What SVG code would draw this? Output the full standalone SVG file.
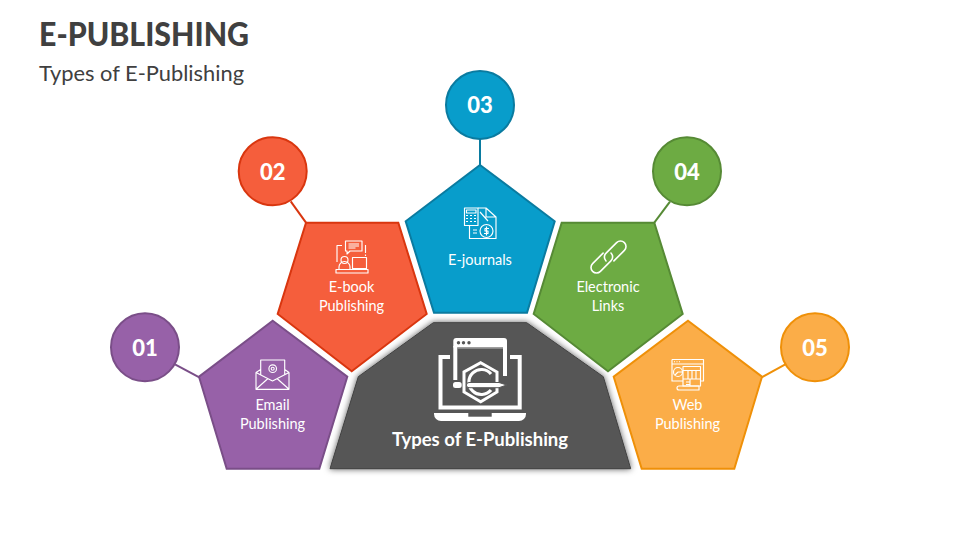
<svg xmlns="http://www.w3.org/2000/svg" width="960" height="540" viewBox="0 0 960 540">
<style>
text{font-family:Lato,"Open Sans",Arial,sans-serif}
.lbl{font-size:14.5px;fill:#fff;text-anchor:middle}
.num{font-size:22px;font-weight:900;fill:#fff;text-anchor:middle}
.ic{fill:none;stroke:#fff;stroke-width:1.150;stroke-linejoin:round}
.s{stroke-width:2}
.p{fill:#9761a8;stroke:#7a4e88}
.r{fill:#f55e3c;stroke:#d9360f}
.b{fill:#089dcb;stroke:#0a7ba0}
.g{fill:#6dab43;stroke:#568a35}
.y{fill:#fbad48;stroke:#ef9008}
</style>
<defs>
<filter id="sh" x="-10%" y="-10%" width="120%" height="120%"><feDropShadow dx="0" dy="0" stdDeviation="3" flood-color="#000" flood-opacity=".65"/></filter>
</defs>
<rect width="960" height="540" fill="#fff"/>
<text x="39" y="46" font-size="32.500" font-weight="900" fill="#404040" textLength="210" lengthAdjust="spacingAndGlyphs">E-PUBLISHING</text>
<text x="39" y="81" font-size="21" fill="#404040" textLength="205" lengthAdjust="spacingAndGlyphs">Types of E-Publishing</text>
<g id="connectors" stroke-width="2" fill="none">
<path d="M175 364.300L199.300 377.300" stroke="#7a4e88"/>
<path d="M290.700 201.300L306 222.700" stroke="#d9360f"/>
<path d="M480 139V165" stroke="#0a7ba0"/>
<path d="M670 201.700L654.300 222.700" stroke="#568a35"/>
<path d="M785.300 364.300L761.700 377.300" stroke="#ef9008"/>
</g>
<g id="center">
<path d="M433.300 322.700H526.700L603.300 376.700L630.700 468.700H330L358.300 376.700Z" fill="#575757" stroke="#404040" filter="url(#sh)"/>
<path d="M453.300 341a3 3 0 0 1 3-3H504a3 3 0 0 1 3 3v6.500H453.300Z" fill="#fff"/>
<circle cx="458.500" cy="342.700" r="1.700" fill="#575757"/><circle cx="463.500" cy="342.700" r="1.700" fill="#575757"/><circle cx="469" cy="342.700" r="1.700" fill="#575757"/>
<path d="M455.300 346V380M505 346V376" fill="none" stroke="#fff" stroke-width="4"/>
<path d="M457.300 348H503" stroke="#9a9a9a" stroke-width="1.500" fill="none"/>
<path d="M450 357H440.500V407.500H519.700V357H510" fill="none" stroke="#fff" stroke-width="4"/>
<path d="M434 413H526v1a7 7 0 0 1-7 7H441a7 7 0 0 1-7-7Z" fill="#fff"/>
<path d="M468.300 413h23.400v3.700h-23.400Z" fill="#575757"/>
<path d="M480.700 362.700L497 372V392L480.700 401.700L464 392V372Z" fill="#575757" stroke="#fff" stroke-width="3"/>
<path d="M491 374A12.500 12.500 0 1 0 491 390" fill="none" stroke="#fff" stroke-width="3.200"/>
<rect x="453" y="382" width="8.700" height="6" rx="2.500" fill="#fff"/>
<path d="M469 382.500H499L506.700 385L499 387.700H469a2.600 2.600 0 0 1 0-5.200Z" fill="#fff" stroke="#575757"/>
<text x="480" y="446" text-anchor="middle" font-size="18.500" font-weight="700" fill="#fff">Types of E-Publishing</text>
</g>
<g id="node-01">
<circle class="p s" cx="145" cy="347.300" r="34"/>
<text class="num" x="145" y="355.500">01</text>
<path class="p s" d="M272.700 320.700L347.300 376.700L319.300 468.700H226.700L199 376.700Z"/>
<path class="ic" d="M260.700 374.500V360H284.700V374.500M256 372.500V389.300H289V372.500L272.500 381ZM256 389.300L268 378.500M289 389.300L277 378.500M260.700 369.500L256 372.500M284.700 369.500L289 372.500"/>
<circle class="ic" cx="272.700" cy="368.700" r="3.800"/><circle class="ic" cx="272.700" cy="368.700" r="1.500"/>
<text class="lbl" x="272.500" y="410">Email</text>
<text class="lbl" x="272.500" y="429">Publishing</text>
</g>
<g id="node-02">
<circle class="r s" cx="272.700" cy="171.300" r="34"/>
<text class="num" x="272.700" y="179.500">02</text>
<path class="r s" d="M306 222.700H398.300L426.700 314L351.700 371.300L277.700 314Z"/>
<path class="ic" d="M345.500 241h16.500v10H350l-3 3v-3h-1.500ZM348.500 244h10.500M348.500 246h10.500M348.500 248h7"/>
<path class="ic" d="M342 245.500H337V262M340 245.500h1.500M365.500 245v8M365.500 254.500v1.500M352.500 257.500h14v11h-14ZM359.500 268.500v1.500"/>
<circle class="ic" cx="344.500" cy="260" r="3.500"/>
<path class="ic" d="M339 269.500v-2.500a5.500 5.500 0 0 1 11 0v2.500"/>
<rect class="ic" x="336" y="269.500" width="32" height="3.500"/>
<text class="lbl" x="351.500" y="292">E-book</text>
<text class="lbl" x="351.500" y="311">Publishing</text>
</g>
<g id="node-03">
<circle class="b s" cx="480" cy="105" r="34"/>
<text class="num" x="480" y="113">03</text>
<path class="b s" d="M480 165L554.700 221.300L527 312.700H434L405.700 221.300Z"/>
<path class="ic" d="M464.500 208h13.500v17.500h-13.500ZM466.500 210h9.500v3h-9.500ZM466 215.500h2M470 215.500h2M474 215.500h2M466 218.500h2M470 218.500h2M474 218.500h2M466 221.500h2M470 221.500h2M474 221.500h2"/>
<path class="ic" d="M478 208h8l10 9v21.500H469.500V226M486 208v9h10M480 212l8 9"/>
<circle class="ic" cx="486.500" cy="231" r="6.500"/>
<path class="ic" d="M473 230h4M473 233h4M489 228.500h-4v2.500h3v2.500h-4M486.500 226.500v9"/>
<text class="lbl" x="480" y="265">E-journals</text>
</g>
<g id="node-04">
<circle class="g s" cx="687" cy="171.300" r="34"/>
<text class="num" x="687" y="179.500">04</text>
<path class="g s" d="M561.700 222.700H654.300L682.700 314L608 371.300L533.700 314Z"/>
<path d="M603.100 253.100L592.600 263.600A5.500 5.500 0 0 0 600.400 271.400L610.900 260.900A5.500 5.500 0 0 0 611 253M613.900 260.900L624.400 250.400A5.500 5.500 0 0 0 616.600 242.600L606.100 253.100A5.500 5.500 0 0 0 606 261" fill="none" stroke="#fff" stroke-width="1.600" stroke-linecap="round"/>
<text class="lbl" x="608" y="292">Electronic</text>
<text class="lbl" x="608" y="311">Links</text>
</g>
<g id="node-05">
<circle class="y s" cx="815" cy="347.300" r="34"/>
<text class="num" x="815" y="355.500">05</text>
<path class="y s" d="M688 320.700L762 376.700L734.300 468.700H641.700L613.700 376.700Z"/>
<path class="ic" d="M672 359.500H703.500V381H701M672 359.500V381H683M672 364H703.500M674 361.700h1M676.500 361.700h1M679 361.700h1"/>
<path class="ic" d="M683 366.500H700.500V386H683ZM683 370.500H700.500M688 370.500V379M692 370.500V379M696 370.500V379M683 379H700.500M686 382h4M686 384.500h4M690 379V386"/>
<circle class="ic" cx="678" cy="372" r="4.500"/>
<path class="ic" d="M678 372l4.500 0M678 372l-3 3"/>
<path class="ic" d="M679 386H699V390H679a2 2 0 0 1 0-4Z"/>
<text class="lbl" x="687.500" y="410">Web</text>
<text class="lbl" x="687.500" y="429">Publishing</text>
</g>
</svg>
